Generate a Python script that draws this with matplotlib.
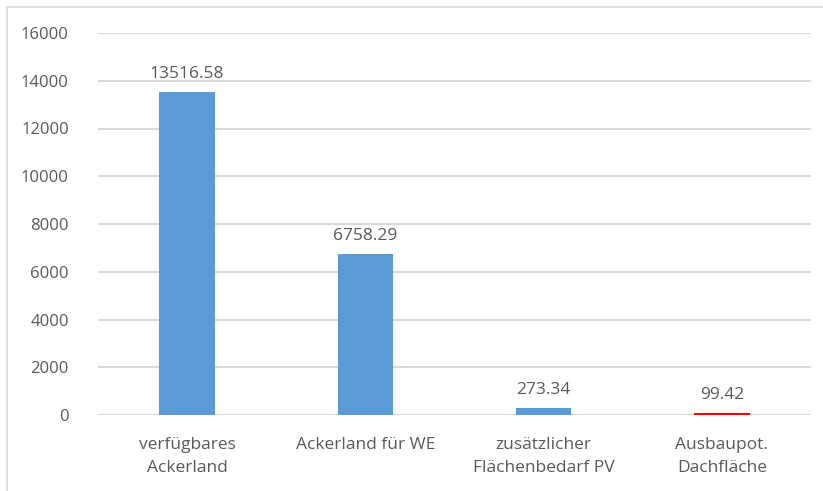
import matplotlib.pyplot as plt
from matplotlib.patches import Rectangle

kategorien = ["verfügbares\nAckerland", "Ackerland für WE",
              "zusätzlicher\nFlächenbedarf PV", "Ausbaupot.\nDachfläche"]
flaechen = [13516.58, 6758.29, 273.34, 99.42]
farben = ["#5b9bd5", "#5b9bd5", "#5b9bd5", "#ff0000"]
yticks = [0, 2000, 4000, 6000, 8000, 10000, 12000, 14000, 16000]

plt.rcParams['font.family'] = ['Open Sans', 'DejaVu Sans']
grau = "#595959"

fig = plt.figure(figsize=(8.23, 4.91), dpi=100)
ax = fig.add_axes([98/823, 1 - 415/491, (811 - 98)/823, (415 - 33)/491])

# Rahmen um das Diagramm
fig.patches.append(Rectangle((7/823, -0.1), 1.1, 1 - 7/491 + 0.1,
                             transform=fig.transFigure, fill=False,
                             edgecolor="#d9d9d9", linewidth=1.2))

x = range(len(kategorien))
ax.bar(x, flaechen, width=0.31, color=farben, zorder=3)
for i, v in enumerate(flaechen):
    ax.text(i, v + 420, f"{v:.2f}", ha="center", va="bottom",
            fontsize=12.5, color=grau)

ax.set_xlim(-0.5, len(kategorien) - 0.5)
ax.set_ylim(0, 16000)
ax.set_yticks(yticks)
ax.set_yticklabels([str(t) for t in yticks], fontsize=12, color=grau)
ax.set_xticks(list(x))
ax.set_xticklabels(kategorien, fontsize=12.5, color=grau, linespacing=1.55)
ax.tick_params(length=0)
ax.tick_params(axis="x", pad=16)
ax.tick_params(axis="y", pad=21)
ax.grid(axis="y", color="#d9d9d9", linewidth=1.5, zorder=0)
for s in ax.spines.values():
    s.set_visible(False)

fig.savefig("out.png", dpi=100)
